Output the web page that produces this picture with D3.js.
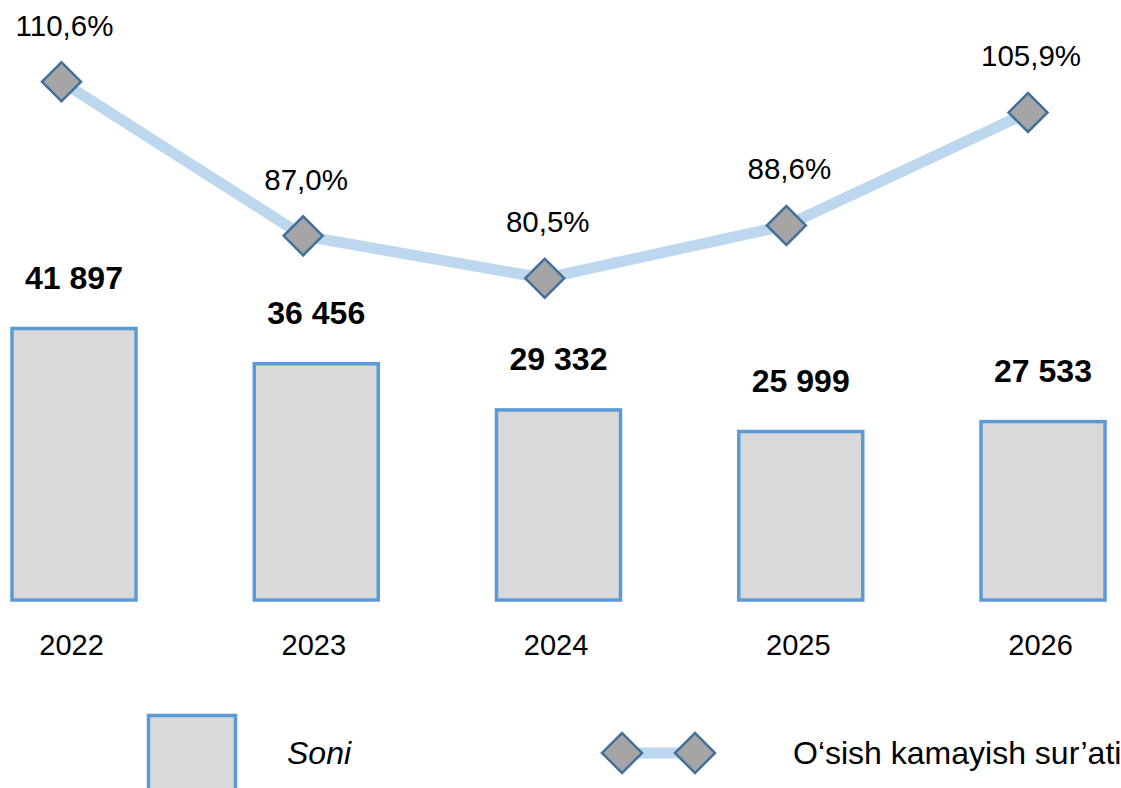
<!DOCTYPE html>
<html>
<head>
<meta charset="utf-8">
<script src="https://cdn.jsdelivr.net/npm/d3@7"></script>
<style>
  html, body { margin: 0; padding: 0; background: #ffffff; }
  svg { display: block; font-family: "Liberation Sans", Arial, sans-serif; }
</style>
</head>
<body>
<svg id="chart" width="1121" height="788"></svg>
<script>
// ---- data ----
const years = ["2022", "2023", "2024", "2025", "2026"];
const counts = [41897, 36456, 29332, 25999, 27533];
const countLabels = ["41 897", "36 456", "29 332", "25 999", "27 533"];
const rates = [110.6, 87.0, 80.5, 88.6, 105.9];
const rateLabels = ["110,6%", "87,0%", "80,5%", "88,6%", "105,9%"];
const legendBars = "Soni";
const legendLine = "O\u2018sish kamayish sur\u2019ati";

const svg = d3.select("#chart");
const baseY = 600;

const x = d3.scalePoint().domain(years).range([74, 1043]);
const xLine = d3.scalePoint().domain(years).range([61.5, 1028]);
const y = d3.scaleLinear().domain([0, 50000]).range([baseY, baseY - 324]);
const y2 = d3.scaleLinear().domain([80, 110]).range([281.6, 85.6]);

const barW = 124;
const barFill = "#d9d9d9", barStroke = "#5b9bd5";
const lineColor = "#bdd7ee", markerFill = "#a5a5a5", markerStroke = "#41719c";

// bars
svg.append("g").selectAll("rect").data(years).join("rect")
  .attr("x", d => x(d) - barW / 2)
  .attr("y", (d, i) => y(counts[i]))
  .attr("width", barW)
  .attr("height", (d, i) => baseY - y(counts[i]))
  .attr("fill", barFill)
  .attr("stroke", barStroke)
  .attr("stroke-width", 3.5);

// bar value labels
svg.append("g").selectAll("text").data(years).join("text")
  .attr("x", d => x(d))
  .attr("y", (d, i) => y(counts[i]) - 40)
  .attr("text-anchor", "middle")
  .attr("font-size", 32)
  .attr("font-weight", "bold")
  .attr("fill", "#000")
  .text((d, i) => countLabels[i]);

// x axis
const xAxis = svg.append("g")
  .attr("transform", `translate(-3,${baseY})`)
  .call(d3.axisBottom(x).tickSize(0).tickPadding(34));
xAxis.select(".domain").remove();
xAxis.selectAll("text")
  .attr("font-size", 29)
  .attr("font-family", "'Liberation Sans', Arial, sans-serif")
  .attr("fill", "#000");

// line
const line = d3.line().x((d, i) => xLine(years[i])).y(d => y2(d));
svg.append("path")
  .datum(rates)
  .attr("d", line)
  .attr("fill", "none")
  .attr("stroke", lineColor)
  .attr("stroke-width", 11);

const diamond = d3.symbol().type(d3.symbolSquare).size(760);
svg.append("g").selectAll("path").data(rates).join("path")
  .attr("d", diamond)
  .attr("transform", (d, i) => `translate(${xLine(years[i])},${y2(d)}) rotate(45)`)
  .attr("fill", markerFill)
  .attr("stroke", markerStroke)
  .attr("stroke-width", 2.5);

// rate labels
svg.append("g").selectAll("text").data(rates).join("text")
  .attr("x", (d, i) => xLine(years[i]) + 3)
  .attr("y", d => y2(d) - 46)
  .attr("text-anchor", "middle")
  .attr("font-size", 29.5)
  .attr("fill", "#000")
  .text((d, i) => rateLabels[i]);

// legend
const lg = svg.append("g");
lg.append("rect")
  .attr("x", 148.5).attr("y", 715.5)
  .attr("width", 87).attr("height", 90)
  .attr("fill", barFill).attr("stroke", barStroke).attr("stroke-width", 3.5);
lg.append("text")
  .attr("x", 287).attr("y", 764)
  .attr("font-size", 32).attr("font-style", "italic").attr("fill", "#000")
  .text(legendBars);

lg.append("line")
  .attr("x1", 622).attr("x2", 695).attr("y1", 753).attr("y2", 753)
  .attr("stroke", lineColor).attr("stroke-width", 11);
[622, 695].forEach(cx => {
  lg.append("path")
    .attr("d", d3.symbol().type(d3.symbolSquare).size(800)())
    .attr("transform", `translate(${cx},753) rotate(45)`)
    .attr("fill", markerFill).attr("stroke", markerStroke).attr("stroke-width", 2.5);
});
lg.append("text")
  .attr("x", 793).attr("y", 764)
  .attr("font-size", 32).attr("fill", "#000")
  .text(legendLine);
</script>
</body>
</html>
